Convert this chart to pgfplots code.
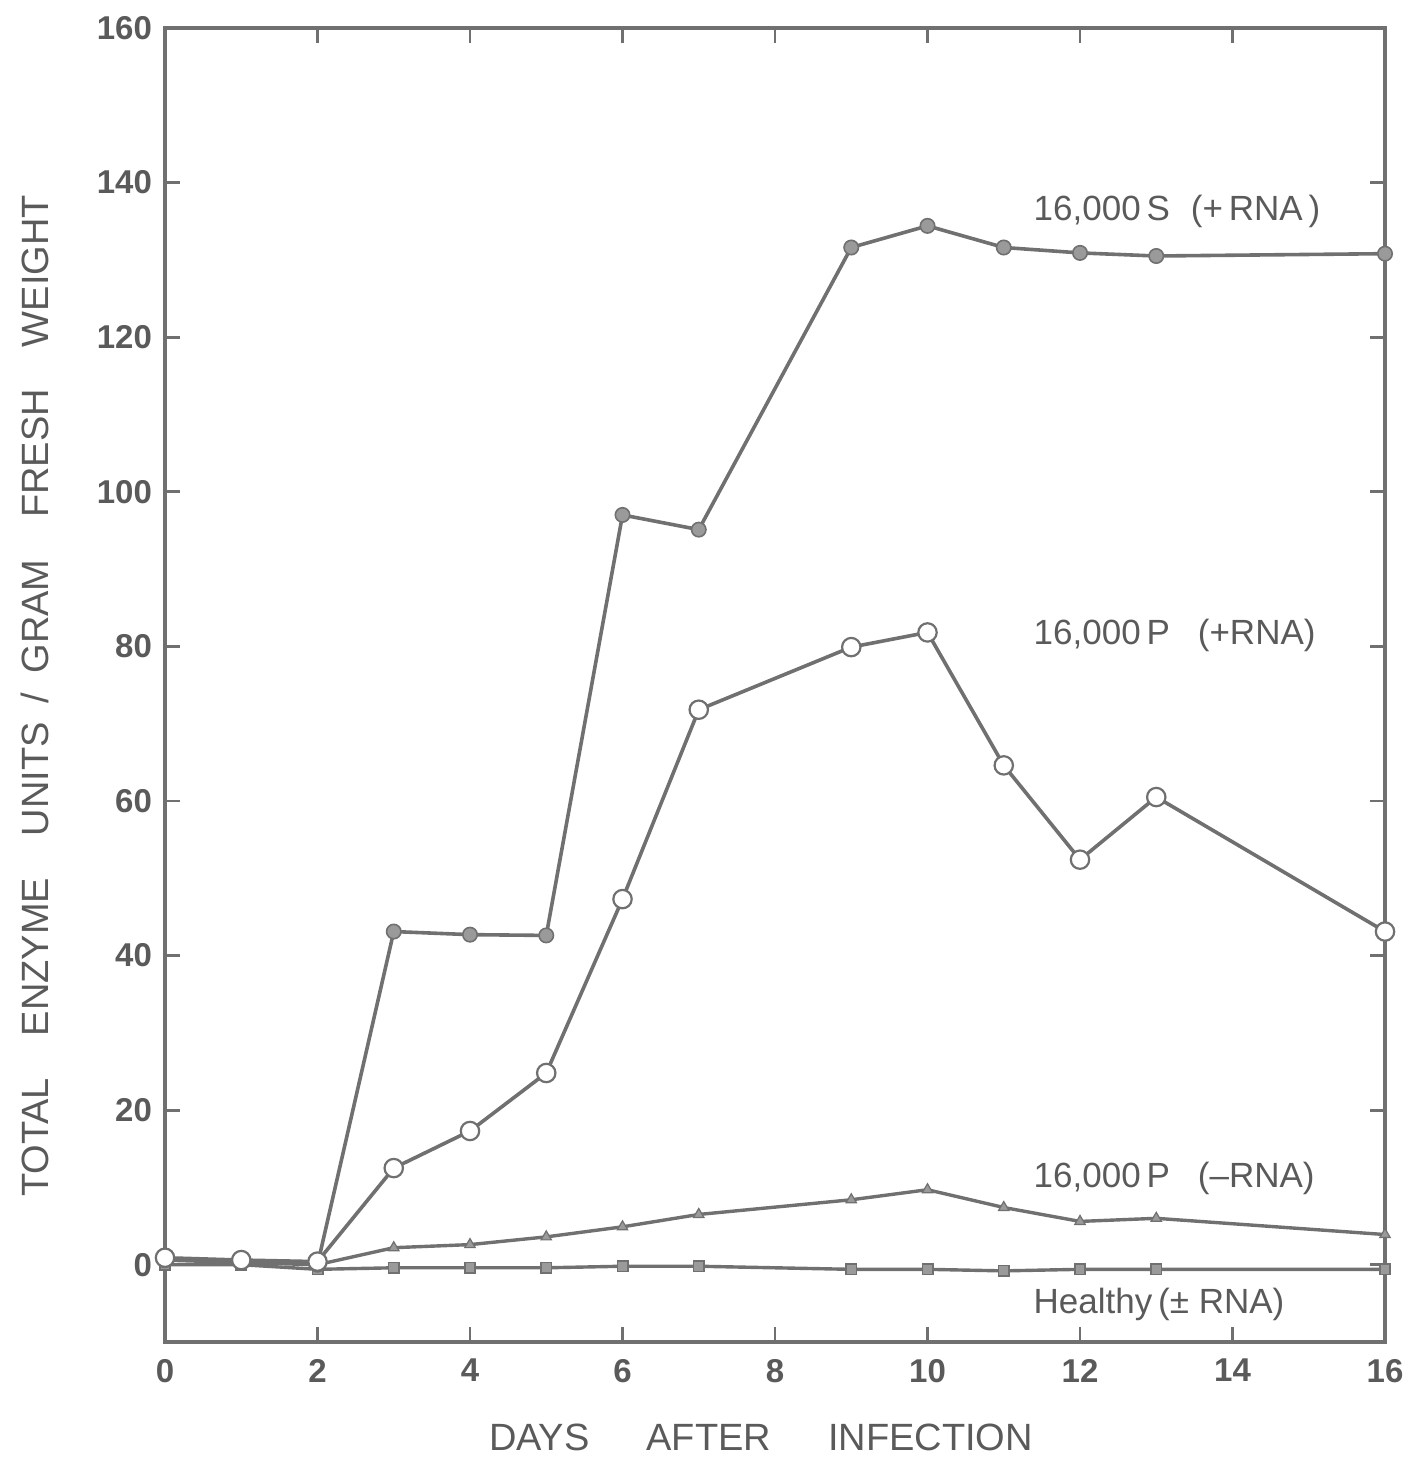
\documentclass[border=0pt]{standalone}
\usepackage{fontspec}
\setmainfont{Liberation Sans}
\usepackage{pgfplots}
\pgfplotsset{compat=1.18}
\definecolor{ink}{HTML}{707070}
\definecolor{txt}{HTML}{5A5A5A}
\definecolor{fillg}{HTML}{9A9A9A}
\begin{document}
\begin{tikzpicture}
\useasboundingbox (-82.5pt,-59pt) rectangle (621pt,671pt);
\begin{axis}[
  at={(0,0)}, anchor=south west,
  scale only axis, width=610pt, height=657pt,
  xmin=0, xmax=16, ymin=-10, ymax=160,
  xtick={0,2,...,16}, ytick={0,20,...,160},
  tick align=inside, major tick length=7.5pt,
  axis line style={ink, line width=1.8pt},
  every tick/.style={ink, line width=1.4pt},
  /pgf/number format/assume math mode=true,
  ticklabel style={font=\fontsize{16.5}{19}\selectfont\bfseries, text=txt},
  xticklabel style={yshift=-5pt},
  yticklabel style={xshift=-3pt},
  clip=false,
]
% Healthy (+/- RNA)
\addplot[ink, line width=1.7pt, mark=square*, mark size=2.6pt, mark options={fill=fillg, draw=ink, line width=0.8pt}] coordinates {
(0,0) (1,0) (2,-0.6) (3,-0.4) (4,-0.4) (5,-0.4) (6,-0.2) (7,-0.2) (9,-0.6) (10,-0.6) (11,-0.8) (12,-0.6) (13,-0.6) (16,-0.6)};
% 16,000 P (-RNA)
\addplot[ink, line width=1.7pt, mark=triangle*, mark size=3pt, mark options={fill=fillg, draw=ink, line width=0.6pt}] coordinates {
(2,0) (3,2.2) (4,2.6) (5,3.6) (6,4.9) (7,6.5) (9,8.4) (10,9.7) (11,7.4) (12,5.6) (13,6.0) (16,3.9)};
% 16,000 S (+RNA)
\addplot[ink, line width=1.8pt, mark=*, mark size=3.6pt, mark options={fill=fillg, draw=ink, line width=0.8pt}] coordinates {
(0,0.6) (1,0.3) (2,0) (3,43.1) (4,42.7) (5,42.6) (6,97.0) (7,95.1) (9,131.6) (10,134.4) (11,131.6) (12,130.9) (13,130.5) (16,130.8)};
% 16,000 P (+RNA)
\addplot[ink, line width=1.8pt, mark=*, mark size=4.6pt, mark options={fill=white, draw=ink, line width=1.1pt}] coordinates {
(0,0.9) (1,0.6) (2,0.4) (3,12.5) (4,17.3) (5,24.8) (6,47.3) (7,71.8) (9,79.9) (10,81.8) (11,64.6) (12,52.4) (13,60.5) (16,43.1)};
\node[anchor=west, text=txt, font=\fontsize{17.5}{20}\selectfont] at (axis cs:11.3,136.3) {16,000\,S\hspace{0.6em}(+\,RNA\,)};
\node[anchor=west, text=txt, font=\fontsize{17.5}{20}\selectfont] at (axis cs:11.3,81.4) {16,000\,P\hspace{0.8em}(+RNA)};
\node[anchor=west, text=txt, font=\fontsize{17.5}{20}\selectfont] at (axis cs:11.3,11.1) {16,000\,P\hspace{0.8em}(--RNA)};
\node[anchor=west, text=txt, font=\fontsize{17.5}{20}\selectfont] at (axis cs:11.3,-5.2) {Healthy\,(± RNA)};
\end{axis}
\node[rotate=90, text=txt, font=\fontsize{19}{22}\selectfont] at (-65pt,323pt) {TOTAL\hspace{1.1em}ENZYME\hspace{1.1em}UNITS\hspace{0.5em}/\hspace{0.5em}GRAM\hspace{1.1em}FRESH\hspace{1.1em}WEIGHT};
\node[text=txt, font=\fontsize{19}{22}\selectfont] at (298pt,-47.5pt) {DAYS\hspace{1.5em}AFTER\hspace{1.5em}INFECTION};
\end{tikzpicture}
\end{document}
